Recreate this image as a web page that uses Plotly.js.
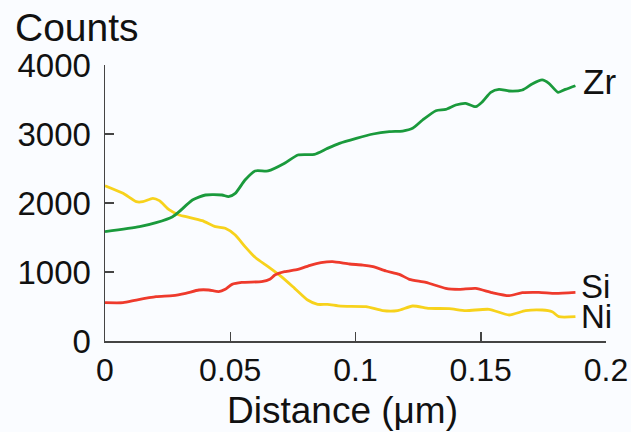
<!DOCTYPE html>
<html>
<head>
<meta charset="utf-8">
<script src="https://cdn.plot.ly/plotly-3.0.1.min.js"></script>
<style>html,body{margin:0;padding:0;background:#fafcff;}#chart{width:631px;height:432px;}</style>
</head>
<body>
<div id="chart"></div>
<script>
// Zr (green)
const zrX = [0, 0.0138, 0.0204, 0.027, 0.0296, 0.0349, 0.0401, 0.0467, 0.0493, 0.052, 0.0559, 0.0599, 0.0651, 0.0717, 0.077, 0.0836, 0.0888, 0.0936, 0.1003, 0.107, 0.1135, 0.1188, 0.1228, 0.1268, 0.1321, 0.136, 0.14, 0.144, 0.148, 0.1507, 0.154, 0.1573, 0.1613, 0.1666, 0.1705, 0.1745, 0.1772, 0.1809, 0.1838, 0.1878];
const zrY = [1585, 1657, 1715, 1802, 1874, 2043, 2116, 2116, 2092, 2140, 2333, 2464, 2464, 2575, 2696, 2705, 2792, 2865, 2937, 3000, 3034, 3043, 3082, 3203, 3338, 3357, 3420, 3444, 3396, 3469, 3604, 3647, 3623, 3638, 3725, 3783, 3734, 3604, 3647, 3700];
// Ni (yellow)
const niX = [0, 0.0072, 0.0125, 0.0151, 0.0191, 0.0217, 0.0257, 0.0296, 0.0336, 0.0388, 0.0441, 0.048, 0.052, 0.0559, 0.0599, 0.0651, 0.0704, 0.0757, 0.0809, 0.0849, 0.0888, 0.0941, 0.1042, 0.1109, 0.1168, 0.1228, 0.1294, 0.1374, 0.144, 0.1533, 0.1613, 0.1679, 0.1745, 0.1785, 0.1812, 0.1878];
const niY = [2251, 2140, 2019, 2019, 2068, 2034, 1899, 1826, 1792, 1744, 1657, 1633, 1536, 1367, 1213, 1077, 932, 763, 594, 531, 531, 505, 498, 440, 440, 507, 473, 469, 440, 459, 377, 440, 449, 425, 353, 353];
// Si (red)
const siX = [0, 0.0072, 0.0125, 0.0204, 0.027, 0.0322, 0.0375, 0.0414, 0.0454, 0.048, 0.0507, 0.0546, 0.0625, 0.0658, 0.0678, 0.0717, 0.077, 0.0822, 0.0862, 0.0908, 0.0976, 0.1029, 0.107, 0.1122, 0.1175, 0.1215, 0.1281, 0.136, 0.1414, 0.148, 0.1546, 0.1613, 0.1666, 0.1732, 0.1798, 0.1878];
const siY = [556, 556, 594, 643, 657, 691, 739, 739, 715, 749, 821, 850, 860, 894, 957, 1005, 1039, 1101, 1135, 1150, 1116, 1101, 1077, 1014, 966, 894, 850, 763, 749, 763, 700, 657, 700, 705, 691, 705];

const xTicks = [0, 0.05, 0.1, 0.15, 0.2];
const xTickText = ['0', '0.05', '0.1', '0.15', '0.2'];
const yTicks = [0, 1000, 2000, 3000, 4000];
const yTickText = ['0', '1000', '2000', '3000', '4000'];
const seriesNames = ['Zr', 'Si', 'Ni'];

const FONT = 'Liberation Sans, Arial, sans-serif';
const line = (x, y, c, n) => ({x, y, name: n, type: 'scatter', mode: 'lines', line: {color: c, width: 2.8, shape: 'spline', smoothing: 0.6}, hoverinfo: 'skip'});

const data = [
  line(niX, niY, '#f7d21c', seriesNames[2]),
  line(siX, siY, '#ee3a2c', seriesNames[1]),
  line(zrX, zrY, '#1a9a3c', seriesNames[0])
];

const layout = {
  width: 631, height: 432,
  margin: {l: 105, r: 25, t: 65, b: 91, pad: 0},
  paper_bgcolor: '#fafcff', plot_bgcolor: '#fafcff',
  showlegend: false,
  font: {family: FONT, color: '#111'},
  xaxis: {
    range: [0, 0.2], tickvals: xTicks, ticktext: xTickText,
    ticks: 'inside', ticklen: 9, tickwidth: 1.5, tickcolor: '#444',
    showline: true, linecolor: '#444', linewidth: 1.5, showgrid: false, zeroline: false,
    tickfont: {size: 32, family: FONT, color: '#111'}
  },
  yaxis: {
    range: [0, 4000], tickvals: yTicks, ticktext: yTickText,
    ticks: 'inside', ticklen: 9, tickwidth: 1.5, tickcolor: '#444',
    showline: true, linecolor: '#444', linewidth: 1.5, showgrid: false, zeroline: false,
    ticklabelstandoff: 6,
    tickfont: {size: 33, family: FONT, color: '#111'}
  },
  annotations: [
    {text: 'Counts', xref: 'paper', yref: 'paper', x: -0.184, y: 1.135, xanchor: 'left', yanchor: 'middle', showarrow: false, font: {size: 39, family: FONT, color: '#111'}},
    {text: 'Distance (μm)', xref: 'paper', yref: 'paper', x: 0.475, y: -0.253, xanchor: 'center', yanchor: 'middle', showarrow: false, font: {size: 37, family: FONT, color: '#111'}},
    {text: seriesNames[0], xref: 'paper', yref: 'paper', x: 0.950, y: 0.942, xanchor: 'left', yanchor: 'middle', showarrow: false, font: {size: 35, family: FONT, color: '#111'}},
    {text: seriesNames[1], xref: 'paper', yref: 'paper', x: 0.946, y: 0.198, xanchor: 'left', yanchor: 'middle', showarrow: false, font: {size: 33, family: FONT, color: '#111'}},
    {text: seriesNames[2], xref: 'paper', yref: 'paper', x: 0.946, y: 0.087, xanchor: 'left', yanchor: 'middle', showarrow: false, font: {size: 33, family: FONT, color: '#111'}}
  ]
};

Plotly.newPlot('chart', data, layout, {staticPlot: true, displayModeBar: false});
</script>
</body>
</html>
